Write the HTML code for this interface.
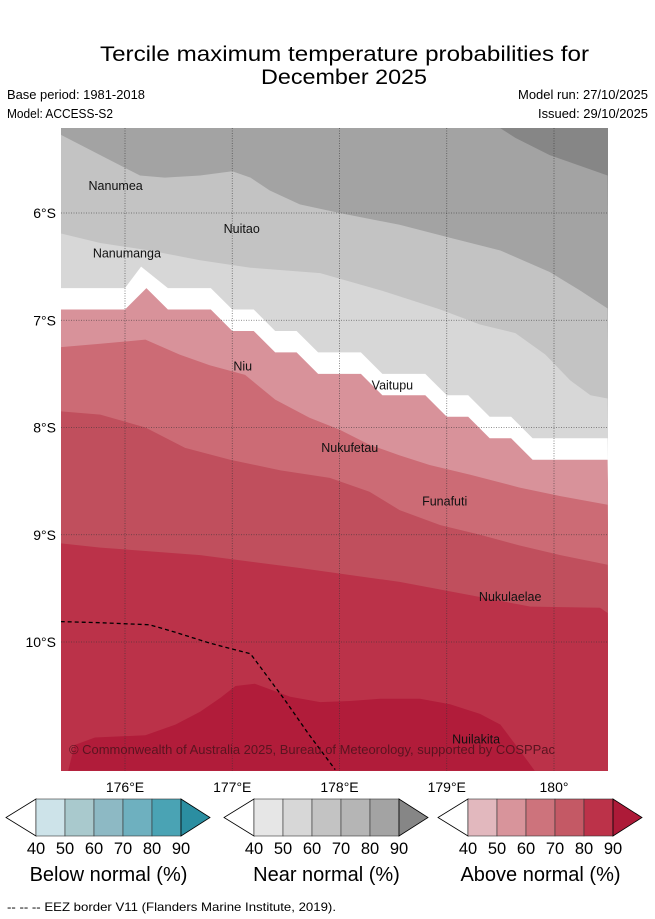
<!DOCTYPE html>
<html><head><meta charset="utf-8">
<style>
html,body{margin:0;padding:0;background:#fff;width:655px;height:919px;overflow:hidden;font-family:"Liberation Sans","DejaVu Sans",sans-serif;}
svg{position:absolute;left:0;top:0}
</style></head>
<body>
<svg id="chart" width="655" height="919" viewBox="0 0 655 919" xmlns="http://www.w3.org/2000/svg">
  <text x="100" y="61" font-size="21" textLength="489" lengthAdjust="spacingAndGlyphs" fill="#000">Tercile maximum temperature probabilities for</text>
  <text x="261" y="84" font-size="21" textLength="166" lengthAdjust="spacingAndGlyphs" fill="#000">December 2025</text>
  <text x="7" y="99" font-size="12.5" textLength="138" lengthAdjust="spacingAndGlyphs">Base period: 1981-2018</text>
  <text x="7" y="118" font-size="12.5" textLength="106" lengthAdjust="spacingAndGlyphs">Model: ACCESS-S2</text>
  <text x="518" y="99" font-size="12.5" textLength="130" lengthAdjust="spacingAndGlyphs">Model run: 27/10/2025</text>
  <text x="538" y="118" font-size="12.5" textLength="110" lengthAdjust="spacingAndGlyphs">Issued: 29/10/2025</text>
  <g id="map"></g>
  <g id="axes"></g>
  <g id="bars"></g>
  <text x="7" y="911" font-size="12" textLength="329" lengthAdjust="spacingAndGlyphs">--  --  -- EEZ border V11 (Flanders Marine Institute, 2019).</text>
</svg>
<script>
// ---- data (lon °E, lat °S) ----
const lonTicks = [176, 177, 178, 179, 180];
const lonTickLabels = ["176°E", "177°E", "178°E", "179°E", "180°"];
const latTicks = [6, 7, 8, 9, 10];
const latTickLabels = ["6°S", "7°S", "8°S", "9°S", "10°S"];
const nearDark90 = [[179.5,5.21],[179.64,5.30],[179.96,5.46],[180.5,5.65]];
const near80to70 = [[175.4,5.27],[175.77,5.46],[176.14,5.65],[176.37,5.67],[176.7,5.65],[177.0,5.61],[177.17,5.67],[177.35,5.79],[177.63,5.92],[178.0,6.0],[178.56,6.11],[179.03,6.23],[179.5,6.35],[179.96,6.55],[180.24,6.72],[180.5,6.89]];
const near70to60 = [[175.4,6.19],[175.77,6.28],[176.23,6.35],[176.7,6.44],[177.17,6.51],[177.82,6.56],[178.38,6.72],[178.94,6.9],[179.31,7.04],[179.64,7.12],[179.92,7.32],[180.15,7.56],[180.34,7.7],[180.5,7.73]];
const nearLowerEdge = [[175.4,6.7],[176.0,6.7],[176.15,6.5],[176.4,6.7],[176.8,6.7],[177.0,6.9],[177.2,6.9],[177.4,7.1],[177.6,7.1],[177.8,7.3],[178.2,7.3],[178.4,7.5],[178.8,7.5],[179.0,7.7],[179.2,7.7],[179.4,7.9],[179.6,7.9],[179.8,8.1],[180.5,8.1]];
const aboveUpperEdge = [[175.4,6.9],[176.0,6.9],[176.2,6.7],[176.4,6.9],[176.8,6.9],[177.0,7.1],[177.2,7.1],[177.4,7.3],[177.6,7.3],[177.8,7.5],[178.2,7.5],[178.4,7.7],[178.8,7.7],[179.0,7.9],[179.2,7.9],[179.4,8.1],[179.6,8.1],[179.8,8.3],[180.5,8.3]];
const above50to60 = [[175.4,7.25],[175.77,7.22],[176.19,7.18],[176.51,7.32],[176.79,7.42],[177.12,7.51],[177.4,7.74],[177.72,7.91],[178.0,8.02],[178.28,8.16],[178.56,8.26],[178.84,8.35],[179.22,8.44],[179.68,8.56],[180.06,8.64],[180.5,8.72]];
const above60to70 = [[175.4,7.85],[175.77,7.88],[176.19,8.0],[176.56,8.19],[176.98,8.3],[177.45,8.4],[177.91,8.47],[178.28,8.6],[178.56,8.77],[178.94,8.91],[179.31,9.0],[179.68,9.1],[180.06,9.19],[180.5,9.28]];
const above70to80 = [[175.4,9.08],[175.77,9.12],[176.7,9.19],[177.63,9.31],[178.56,9.44],[179.31,9.58],[179.78,9.67],[180.43,9.68],[180.5,9.73]];
const above90Region = [[175.47,11.2],[175.53,10.96],[175.72,10.89],[176.19,10.87],[176.47,10.77],[176.7,10.65],[176.89,10.52],[177.03,10.41],[177.21,10.39],[177.54,10.51],[177.82,10.56],[178.1,10.55],[178.38,10.53],[178.75,10.53],[179.03,10.58],[179.31,10.67],[179.5,10.77],[179.68,11.01],[179.82,11.2]];
const eezBorder = [[175.4,9.81],[175.77,9.82],[176.23,9.84],[176.47,9.91],[176.79,10.01],[177.17,10.11],[177.49,10.54],[177.72,10.87],[177.96,11.19]];
const islandNames = ["Nanumea","Nuitao","Nanumanga","Niu","Vaitupu","Nukufetau","Funafuti","Nukulaelae","Nuilakita"];
const islandLabelLon = [175.66,176.92,175.7,177.01,178.3,177.83,178.77,179.3,179.05];
const islandLabelLat = [5.74,6.14,6.37,7.42,7.6,8.18,8.68,9.57,10.9];
const barTicks = ["40","50","60","70","80","90"];
const barTitles = ["Below normal (%)","Near normal (%)","Above normal (%)"];
const barColors = [
  ["#cde3e9","#a9c9cd","#8db9c4","#6eb0bf","#4aa3b4","#2b8ea1"],
  ["#e6e6e6","#d7d7d7","#c3c3c3","#b5b5b5","#a3a3a3","#868686"],
  ["#e2b8be","#d8949b","#cd737c","#c45965","#bc3249","#ad1a38"]];

// ---- axis functions ----
const X0=61, X1=608, Y0=128, Y1=771;
const xS = lon => 125 + (lon-176)*107.25;
const yS = lat => 213 + (lat-6)*107.25;
const NS="http://www.w3.org/2000/svg";
function mk(tag, attrs, parent){const e=document.createElementNS(NS,tag);for(const k in attrs)e.setAttribute(k,attrs[k]);parent.appendChild(e);return e;}
const pts = arr => arr.map(p=>xS(p[0]).toFixed(1)+","+yS(p[1]).toFixed(1));
const map=document.getElementById('map');
const clip=mk('clipPath',{id:'mc'},map); mk('rect',{x:X0,y:Y0,width:X1-X0,height:Y1-Y0},clip);
const g=mk('g',{'clip-path':'url(#mc)'},map);

function below(line, fill, name){
  const p=mk('polygon',{points:[...pts(line), X1+5+","+(Y1+5), (X0-5)+","+(Y1+5)].join(" "),fill:fill},g);
  
  
}
const bg=mk('rect',{x:X0,y:Y0,width:X1-X0,height:Y1-Y0,fill:"#868686"},g);


{const p=mk('polygon',{points:[(X0-5)+","+(Y0-5),...pts(nearDark90),(X1+5)+","+(Y1+5),(X0-5)+","+(Y1+5)].join(" "),fill:"#a3a3a3"},g);

}
below(near80to70,"#c3c3c3","near-normal-70-region");
below(near70to60,"#d7d7d7","near-normal-60-region");
below(nearLowerEdge,"#ffffff","no-dominant-tercile-region");
below(aboveUpperEdge,"#d8929a","above-normal-50-region");
below(above50to60,"#cc6b75","above-normal-60-region");
below(above60to70,"#c04f5d","above-normal-70-region");
below(above70to80,"#bb3249","above-normal-80-region");
{const p=mk('polygon',{points:pts(above90Region).join(" "),fill:"#b11c3a"},g);

}

// grid
const ax=document.getElementById('axes');
lonTicks.forEach((l,i)=>{
  const ln=mk('line',{x1:xS(l),x2:xS(l),y1:Y0,y2:Y1,stroke:"#333",'stroke-width':0.8,'stroke-dasharray':"1,1.5",opacity:0.7},g);
  
  
  const t=mk('text',{x:xS(l),y:792,'font-size':14,'text-anchor':'middle'},ax); t.textContent=lonTickLabels[i];
  
  
});
latTicks.forEach((l,i)=>{
  const ln=mk('line',{x1:X0,x2:X1,y1:yS(l),y2:yS(l),stroke:"#333",'stroke-width':0.8,'stroke-dasharray':"1,1.5",opacity:0.7},g);
  
  
  const t=mk('text',{x:56,y:yS(l)+5,'font-size':14,'text-anchor':'end'},ax); t.textContent=latTickLabels[i];
  
  
});
// EEZ
{const e=mk('polyline',{points:pts(eezBorder).join(" "),fill:"none",stroke:"#000",'stroke-width':1.3,'stroke-dasharray':"4,3"},g);

}
// islands
islandNames.forEach((n,i)=>{
  const t=mk('text',{x:xS(islandLabelLon[i]),y:yS(islandLabelLat[i])+5,'font-size':12.5,'text-anchor':'start',fill:"#111"},g);
  t.textContent=n;
  
  
});
{const c=mk('text',{x:69,y:754,'font-size':13,fill:"#5a1420",textLength:486,lengthAdjust:"spacingAndGlyphs"},g);
c.textContent="© Commonwealth of Australia 2025, Bureau of Meteorology, supported by COSPPac";

}

// colorbars
const bars=document.getElementById('bars');
const barLeft=[36,254,468], bw=29, by=799, bh=37;
barLeft.forEach((L,b)=>{
  const gb=mk('g',{},bars);
  
  
  mk('polygon',{points:`${L},${by} ${L-30},${by+bh/2} ${L},${by+bh}`,fill:"#fff",stroke:"#000",'stroke-width':0.8},gb);
  for(let k=0;k<5;k++){
    const r=mk('rect',{x:L+k*bw,y:by,width:bw,height:bh,fill:barColors[b][k],stroke:"#333",'stroke-width':0.6},gb);
    
    
  }
  mk('polygon',{points:`${L+5*bw},${by} ${L+5*bw+29},${by+bh/2} ${L+5*bw},${by+bh}`,fill:barColors[b][5],stroke:"#000",'stroke-width':0.8},gb);
  barTicks.forEach((tk,k)=>{const t=mk('text',{x:L+k*bw,y:854,'font-size':16.5,'text-anchor':'middle'},gb);t.textContent=tk;
    
    });
  const tt=mk('text',{x:L+2.5*bw,y:881,'font-size':20,'text-anchor':'middle'},gb);tt.textContent=barTitles[b];
  
  
});
</script>
</body></html>
